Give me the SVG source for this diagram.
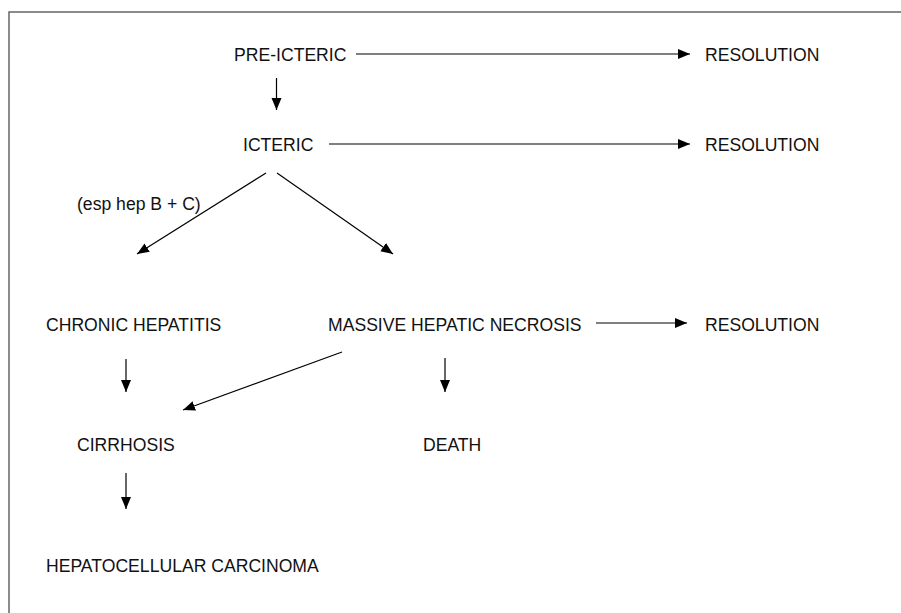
<svg xmlns="http://www.w3.org/2000/svg" width="901" height="613" viewBox="0 0 901 613">
<style>
text{font-family:"Liberation Sans",Arial,sans-serif;font-size:17.6px;fill:#111}
.c line{stroke:#000;stroke-width:1.2;marker-end:url(#ah)}
.frame{stroke:#666;stroke-width:1.5;fill:none}
</style>
<defs>
<marker id="ah" markerUnits="userSpaceOnUse" markerWidth="13" markerHeight="11" refX="12" refY="5" orient="auto">
<path d="M0,0 L12,5 L0,10 z" fill="#000"/>
</marker>
</defs>
<rect width="901" height="613" fill="#fff"/>
<path class="frame" d="M9,613 V12 H901"/>
<g id="pre-icteric"><text x="234" y="61">PRE-ICTERIC</text></g>
<g id="resolution-1"><text x="705" y="61">RESOLUTION</text></g>
<g id="icteric"><text x="243" y="151">ICTERIC</text></g>
<g id="resolution-2"><text x="705" y="151">RESOLUTION</text></g>
<g id="label-hep"><text x="77" y="210">(esp hep B + C)</text></g>
<g id="chronic-hepatitis"><text x="46" y="331">CHRONIC HEPATITIS</text></g>
<g id="massive-hepatic-necrosis"><text x="328" y="331">MASSIVE HEPATIC NECROSIS</text></g>
<g id="resolution-3"><text x="705" y="331">RESOLUTION</text></g>
<g id="cirrhosis"><text x="77" y="451">CIRRHOSIS</text></g>
<g id="death"><text x="423" y="451">DEATH</text></g>
<g id="hcc"><text x="46" y="572">HEPATOCELLULAR CARCINOMA</text></g>
<g id="connectors" class="c">
<line x1="356" y1="54" x2="690" y2="54"/>
<line x1="276.5" y1="78" x2="276.5" y2="110"/>
<line x1="329" y1="144" x2="690" y2="144"/>
<line x1="266" y1="173" x2="137" y2="254"/>
<line x1="277" y1="173" x2="393" y2="254"/>
<line x1="596" y1="323" x2="687" y2="323"/>
<line x1="126" y1="359" x2="126" y2="392"/>
<line x1="342" y1="352" x2="183" y2="410"/>
<line x1="445" y1="358" x2="445" y2="392"/>
<line x1="126" y1="473" x2="126" y2="509"/>
</g>
</svg>
